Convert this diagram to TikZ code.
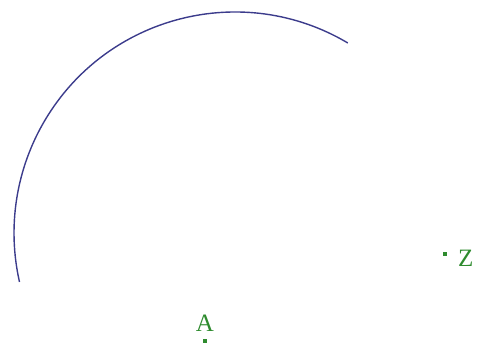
\documentclass[tikz,border=0pt]{standalone}
\usepackage{fontspec}
\setmainfont{Liberation Serif}
\usepackage{tikz}
\usetikzlibrary{positioning}
\definecolor{arcblue}{HTML}{3C3C8C}
\definecolor{ptgreen}{HTML}{2E8B2E}

\begin{document}
\begin{tikzpicture}[x=1pt, y=1pt, font=\fontsize{25}{25}\selectfont,
  pt/.style={fill=ptgreen, inner sep=0pt, minimum size=3.5pt},
  lbl/.style={text=ptgreen, inner sep=0pt},
  arcline/.style={draw=arcblue, line width=1.4pt}]
  \useasboundingbox (0,0) rectangle (481,351);
  \coordinate (O) at (235,118);
  \draw[arcline] (O) ++(59.3:221) arc[start angle=59.3, end angle=192.8, radius=221];
  \node[pt] (A) at (205,10) {};
  \node[pt] (Z) at (445,97) {};
  \node[lbl, above=7pt of A] (Alabel) {A};
  \node[lbl, right=11pt of Z, yshift=-4pt] (Zlabel) {Z};
\end{tikzpicture}
\end{document}
